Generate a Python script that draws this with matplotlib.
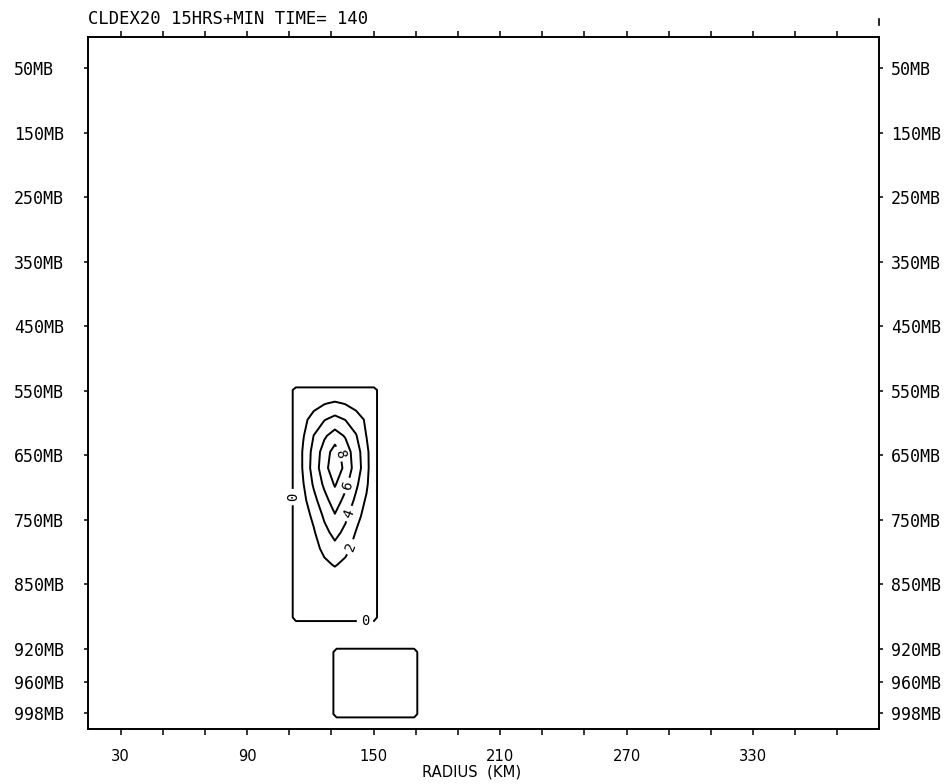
import numpy as np
import matplotlib
matplotlib.use('Agg')
import matplotlib.pyplot as plt
from matplotlib.lines import Line2D

plt.rcParams['font.family'] = 'DejaVu Sans Mono'

# model levels shown on the vertical axis
levels_mb = [50, 150, 250, 350, 450, 550, 650, 750, 850, 920, 960, 998]
level_labels = ['50MB', '150MB', '250MB', '350MB', '450MB', '550MB', '650MB',
                '750MB', '850MB', '920MB', '960MB', '998MB']

# radius ticks (km), every third one labelled
radius_ticks = [30, 50, 70, 90, 110, 130, 150, 170, 190, 210, 230, 250, 270,
                290, 310, 330, 350, 370]
radius_labels = ['30', '', '', '90', '', '', '150', '', '', '210', '', '',
                 '270', '', '', '330', '', '']

# cloud field inside the updraft column
cloud_r = [111.6, 113.1, 116.6, 121.6, 126.6, 131.6, 136.6, 141.6, 146.6, 150.1, 151.6]
cloud_p = [545, 549, 570, 595, 620, 645, 670, 695, 720, 745, 770, 795, 820, 845, 867, 886, 890]
cloud_val = [
    [0, 0, 0, 0, 0, 0, 0, 0, 0, 0, 0],
    [0, .1, .1, .1, .1, .1, .1, .1, .1, .1, 0],
    [0, .1, .6, 1.3, 1.9, 2.3, 1.9, 1.3, .6, .1, 0],
    [0, .1, 1.45, 2.8, 3.9, 4.6, 3.95, 2.9, 1.7, .1, 0],
    [0, .1, 1.85, 4.05, 5.7, 6.9, 5.8, 4.15, 1.95, .1, 0],
    [0, .1, 2.3, 4.7, 6.9, 8.9, 7.1, 4.9, 2.7, .1, 0],
    [0, .1, 2.3, 4.9, 7.2, 9.5, 7.4, 5.1, 2.8, .1, 0],
    [0, .1, 1.9, 4.3, 6.4, 8.2, 6.5, 4.4, 2.4, .1, 0],
    [0, .1, 1.45, 3.4, 5.3, 7.0, 5.4, 3.6, 1.7, .1, 0],
    [0, .1, 1.1, 2.4, 4.3, 5.8, 4.4, 2.7, 1.2, .1, 0],
    [0, .1, .9, 1.8, 3.4, 4.6, 3.5, 1.9, .9, .1, 0],
    [0, .1, .75, 1.5, 2.35, 3.4, 2.4, 1.5, .75, .1, 0],
    [0, .1, .55, 1.1, 1.7, 2.1, 1.65, 1.1, .55, .1, 0],
    [0, .1, .4, .8, 1.0, 1.2, 1.0, .8, .4, .1, 0],
    [0, .1, .2, .4, .5, .6, .5, .4, .2, .1, 0],
    [0, .1, .1, .1, .1, .1, .1, .1, .1, .1, 0],
    [0, 0, 0, 0, 0, 0, 0, 0, 0, 0, 0],
]
cloud_levels = [0, 2, 4, 6, 8]

# weak patch near the surface
patch_r = [130.9, 132.4, 150.8, 169.2, 170.7]
patch_p = [920, 924, 960, 999, 1003]
patch_val = [
    [0, 0, 0, 0, 0],
    [0, .1, .1, .1, 0],
    [0, .1, .5, .1, 0],
    [0, .1, .1, .1, 0],
    [0, 0, 0, 0, 0],
]

# vertical coordinate: even spacing to 850mb, one step to 920, one to 998
p_knots = [0, 50, 850, 920, 998, 1100]
h_knots = [-0.5, 0, 8, 9, 10, 11.31]


def to_height(p):
    return np.interp(p, p_knots, h_knots)


def to_pressure(h):
    return np.interp(h, h_knots, p_knots)


fig = plt.figure(figsize=(9.48, 7.84), dpi=100)
rect = [88 / 948, 1 - 729 / 784, (879 - 88) / 948, (729 - 37) / 784]
ax = fig.add_axes(rect)
ax.set_yscale('function', functions=(to_height, to_pressure))
ax.set_xlim(14.5, 389.7)
ax.set_ylim(1017, 2)

cs = ax.contour(cloud_r, cloud_p, np.array(cloud_val), levels=cloud_levels,
                colors='black', linewidths=1.4)
ax.clabel(cs, cloud_levels, inline=True, fontsize=10, inline_spacing=4,
          fmt={0: '0', 2: '2', 4: '4', 6: '6', 8: '8'},
          manual=[(111.3, 715), (145.9, 888), (138.7, 792), (137.8, 740),
                  (136.4, 696), (133.0, 648)])
ax.contour(patch_r, patch_p, np.array(patch_val), levels=[0],
           colors='black', linewidths=1.4)

for s in ax.spines.values():
    s.set_linewidth(1.4)

ax.set_xticks(radius_ticks)
ax.set_xticklabels(radius_labels, family='DejaVu Sans', fontsize=10.6)
ax.tick_params(axis='x', direction='out', length=4.3, width=1.1, top=True,
               pad=10)

ax.set_yticks(levels_mb)
ax.set_yticklabels(level_labels, ha='left', fontsize=12)
ax.tick_params(axis='y', direction='out', length=2.9, width=1.1, left=True,
               right=False, pad=50.4)

# same levels labelled again on the right
ax_r = fig.add_axes(rect, sharey=ax, label='right levels')
ax_r.patch.set_visible(False)
for s in ax_r.spines.values():
    s.set_visible(False)
ax_r.xaxis.set_visible(False)
ax_r.yaxis.tick_right()
ax_r.tick_params(axis='y', direction='out', length=2.9, width=1.1, pad=5.8,
                 labelsize=12)

fig.text(88.3 / 948, 1 - 18.5 / 784, 'CLDEX20 15HRS+MIN TIME= 140',
         fontsize=12.4, va='center', ha='left')
fig.text(472 / 948, 1 - 772 / 784, 'RADIUS  (KM)', family='DejaVu Sans',
         fontsize=10.6, va='center', ha='center')

# small pen mark above the top-right corner
fig.add_artist(Line2D([879 / 948, 879 / 948], [1 - 19 / 784, 1 - 25 / 784],
                      color='black', linewidth=1.2))

fig.savefig('out.png', dpi=100)
